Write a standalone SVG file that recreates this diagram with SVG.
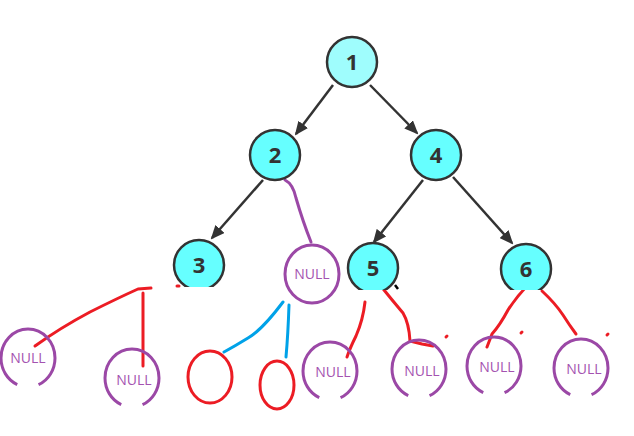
<svg xmlns="http://www.w3.org/2000/svg" width="634" height="436" viewBox="0 0 634 436">
<defs>
<style>
.node circle{fill:#66ffff;stroke:#333;stroke-width:2.5}
.node text{font-family:"Open Sans","Liberation Sans",sans-serif;font-weight:bold;font-size:22px;fill:#333;text-anchor:middle}
.null ellipse{fill:none;stroke:#9b48a6;stroke-width:3}
.null .gap{stroke-dasharray:33 22 200}
.null text{font-family:"Open Sans","Liberation Sans",sans-serif;font-size:14px;fill:#a452b0;text-anchor:middle}
.edge{stroke:#333;stroke-width:2.5;fill:none}
.red{stroke:#ec1c24;stroke-width:3;fill:none;stroke-linecap:round;stroke-linejoin:round}
.blue{stroke:#00a2e8;stroke-width:3;fill:none;stroke-linecap:round}
.purple{stroke:#9b48a6;stroke-width:3;fill:none;stroke-linecap:round}
</style>
<marker id="ah" markerWidth="14" markerHeight="12" refX="12" refY="6" orient="auto" markerUnits="userSpaceOnUse" viewBox="0 0 14 12">
<path d="M0,0 L14,6 L0,12 Z" fill="#333"/>
</marker>
<clipPath id="c3"><rect x="0" y="0" width="634" height="287"/></clipPath>
<clipPath id="c56"><rect x="0" y="0" width="634" height="290"/></clipPath>
</defs>
<rect width="634" height="436" fill="#fff"/>
<g id="connectors">
<path class="edge" d="M333,85 L296,134" marker-end="url(#ah)"/>
<path class="edge" d="M370,85 L417,133" marker-end="url(#ah)"/>
<path class="edge" d="M263,180 L212,238" marker-end="url(#ah)"/>
<path class="edge" d="M423,180 L374,242" marker-end="url(#ah)"/>
<path class="edge" d="M453,177 L512,243" marker-end="url(#ah)"/>
<path class="purple" d="M285,180 Q293,184 296,198 Q303,222 311,242"/>
<path class="red" d="M35,346 Q60,328 90,312 Q118,298 138,289 L151,288"/>
<path class="red" d="M143,293 L143,366"/>
<path class="blue" d="M283,302 Q262,330 248,338 Q235,346 224,352"/>
<path class="blue" d="M289,305 Q288,335 286,357"/>
<path class="red" d="M365,302 Q363,320 356,336 Q350,348 347,357"/>
<path class="red" d="M380,285 Q392,300 403,313 Q409,323 410,341 L422,344 L433,346"/>
<path class="red" d="M529,284 Q517,296 508,310 Q500,325 492,334 L487,347"/>
<path class="red" d="M542,291 Q555,303 563,315 Q570,326 576,334"/>
<path class="red" d="M177,286 l2,0"/>
<path class="red" d="M446,337 l1,-1"/>
<path class="red" d="M521,333 l1,-1"/>
<path class="red" d="M607,335 l1,-1"/>
<path d="M395,285 L398,289" stroke="#000" stroke-width="2.5"/>
</g>
<g id="n1" class="node"><circle cx="352" cy="62" r="25" style="fill:#9ffdfd"/><text x="352" y="70">1</text></g>
<g id="n2" class="node"><circle cx="275" cy="155" r="25"/><text x="275" y="163">2</text></g>
<g id="n4" class="node"><circle cx="436" cy="155" r="25"/><text x="436" y="163">4</text></g>
<g id="n3" class="node" clip-path="url(#c3)"><circle cx="199" cy="265" r="25"/><text x="199" y="273">3</text></g>
<g id="n5" class="node" clip-path="url(#c56)"><circle cx="373" cy="268" r="25"/><text x="373" y="276">5</text></g>
<g id="n6" class="node" clip-path="url(#c56)"><circle cx="526" cy="269" r="25"/><text x="526" y="277">6</text></g>
<g id="null2" class="null"><ellipse cx="312" cy="274" rx="27" ry="29"/><text x="312" y="279">NULL</text></g>
<g id="nullA" class="null"><ellipse class="gap" cx="28" cy="358" rx="27" ry="29"/><text x="28" y="363">NULL</text></g>
<g id="nullB" class="null"><ellipse class="gap" cx="132" cy="378" rx="27" ry="29"/><text x="134" y="385">NULL</text></g>
<g id="redA"><ellipse cx="210" cy="377" rx="22" ry="26" fill="none" stroke="#ec1c24" stroke-width="3"/></g>
<g id="redB"><ellipse cx="277" cy="385" rx="17" ry="24" fill="none" stroke="#ec1c24" stroke-width="3"/></g>
<g id="nullC" class="null"><ellipse class="gap" cx="330" cy="371" rx="27" ry="29"/><text x="333" y="377">NULL</text></g>
<g id="nullD" class="null"><ellipse class="gap" cx="419" cy="369" rx="27" ry="29"/><text x="422" y="376">NULL</text></g>
<g id="nullE" class="null"><ellipse class="gap" cx="494" cy="366" rx="27" ry="29"/><text x="497" y="372">NULL</text></g>
<g id="nullF" class="null"><ellipse class="gap" cx="581" cy="368" rx="27" ry="29"/><text x="584" y="374">NULL</text></g>
</svg>
